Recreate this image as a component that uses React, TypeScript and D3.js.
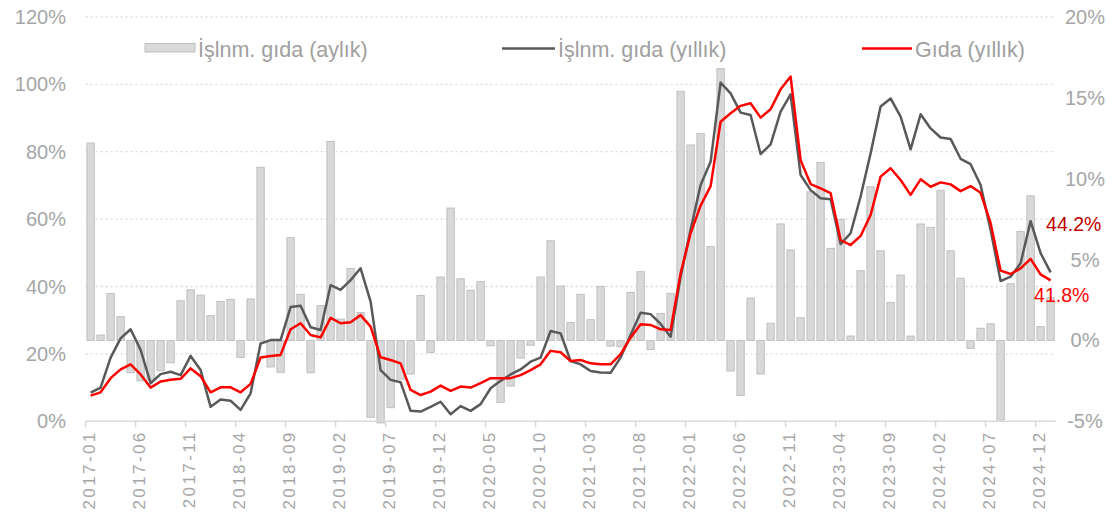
import { useMemo } from 'react'
import * as d3 from 'd3'

// monthly change of processed food (%), right axis
const monthlyProc = [
  12.2, 0.33, 2.9, 1.47, -2.0, -2.5, -2.45, -1.87, -1.38, 2.45, 3.13, 2.8, 1.53, 2.41, 2.54, -1.05, 2.56, 10.7, -1.64, -1.97,
  6.35, 2.85, -2.0, 2.15, 12.3, 1.32, 4.45, 1.73, -4.75, -5.1, -4.16, -2.39, -2.08, 2.78, -0.74, 3.92, 8.18, 3.81, 3.1, 3.63,
  -0.33, -3.83, -2.82, -1.09, -0.3, 3.92, 6.16, 3.36, 1.1, 2.85, 1.28, 3.34, -0.35, -0.39, 2.97, 4.25, -0.57, 1.67, 2.91, 15.4,
  12.08, 12.8, 5.8, 16.8, -1.89, -3.4, 2.62, -2.08, 1.06, 7.2, 5.59, 1.4, 9.19, 11.0, 5.69, 7.48, 0.27, 4.31, 9.5, 5.54,
  2.35, 4.04, 0.27, 7.2, 6.99, 9.28, 5.54, 3.84, -0.49, 0.75, 1.03, -4.92, 3.5, 6.74, 8.94, 0.85, 2.64,
]

// annual change of processed food (%), left axis
const annualProc = [
  8.5, 10, 18.9, 24.6, 27.3, 21.2, 11.3, 14, 14.7, 13.7, 19.4, 15.2, 4.3, 6.5, 6.1, 3.4, 8.3, 23.1, 24.1, 24.1,
  33.9, 34.3, 27.9, 27.1, 40.4, 39, 41.9, 45.4, 35.5, 15.2, 12.3, 11.6, 3.1, 2.9, 4.3, 5.8, 2.1, 4.5, 3.1, 5.1,
  9.8, 12, 13.9, 15.4, 17.7, 18.9, 26.8, 26.1, 17.9, 16.9, 14.9, 14.5, 14.4, 18.9, 25.6, 32.2, 31.8, 28.9, 25.1, 42.9,
  56.8, 70.1, 77, 100.5, 97.3, 91.6, 90.9, 79.3, 82.2, 91.9, 97, 73.1, 68.6, 66.2, 65.9, 52.6, 55.8, 66.7, 79.5, 93.4,
  95.8, 90.4, 80.7, 91.1, 86.9, 84.2, 83.8, 77.9, 76.3, 70.1, 56.8, 41.6, 42.9, 46.9, 59.4, 49.9, 44.2,
]

// annual change of food (%), left axis
const annualFood = [
  7.6, 8.6, 12.8, 15.4, 16.9, 13.9, 10, 11.8, 12.3, 12.6, 15.7, 13.4, 8.6, 10.1, 10.1, 8.6, 11.1, 18.9, 19.4, 19.7,
  27.3, 29.1, 25.6, 24.9, 30.7, 29.1, 29.4, 31.5, 28.1, 19, 18.2, 17.2, 9.3, 7.8, 8.8, 10.6, 9, 10.3, 10, 11.3,
  12.8, 12.8, 12.8, 13.7, 15.2, 16.9, 20.9, 20.5, 17.9, 18.2, 17.2, 16.9, 16.9, 19.9, 24.8, 28.8, 28.6, 27.3, 27.1, 43.9,
  55.8, 64, 69.8, 88.9, 91.4, 93.6, 94.4, 90.1, 92.6, 98.5, 102.3, 77.5, 70.4, 69.1, 67.7, 53.8, 52.3, 55, 61.2, 72.6,
  75.1, 71.6, 67.2, 71.8, 69.6, 70.9, 70.3, 68.3, 69.8, 67.8, 58.8, 44.7, 43.7, 45.4, 48.2, 43.6, 41.8,
]

const months = d3.timeMonth.range(new Date(2017, 0, 1), new Date(2025, 1, 1)).map(d3.timeFormat('%Y-%m'))
const shownMonths = [
  '2017-01', '2017-06', '2017-11', '2018-04', '2018-09', '2019-02', '2019-07', '2019-12', '2020-05', '2020-10',
  '2021-03', '2021-08', '2022-01', '2022-06', '2022-11', '2023-04', '2023-09', '2024-02', '2024-07', '2024-12',
]
const leftTicks = [0, 20, 40, 60, 80, 100, 120]
const rightTicks = [-5, 0, 5, 10, 15, 20]

const W = 1115
const H = 517
const FONT = '"Liberation Sans", Arial, sans-serif'

export default function App() {
  const m = { left: 85.6, right: 1055.6, top: 16.9, bottom: 421.3 }

  const x = useMemo(() => d3.scaleBand<string>().domain(months).range([m.left, m.right])
    .paddingInner(0.27).paddingOuter(0.135), [])
  const yL = d3.scaleLinear().domain([0, 120]).range([m.bottom, m.top])
  const yR = d3.scaleLinear().domain([-5, 20]).range([m.bottom, m.top])
  const step = x.step()
  const cx = (d: string) => (x(d) ?? 0) + x.bandwidth() / 2

  const line = d3.line<number>().x((_, i) => cx(months[i])).y((v) => yL(v))

  const last = months[months.length - 1]
  const lastProc = annualProc[annualProc.length - 1]
  const lastFood = annualFood[annualFood.length - 1]

  return (
    <svg width={W} height={H} style={{ position: 'absolute', left: 0, top: 0, background: '#fff' }} fontFamily={FONT}>
      {/* grid */}
      {leftTicks.slice(1).map((t) => (
        <line key={t} x1={m.left} x2={m.right} y1={yL(t)} y2={yL(t)}
          stroke="#d9d9d9" strokeWidth={1.3} strokeDasharray="2,3" />
      ))}

      {/* bars */}
      {monthlyProc.map((v, i) => (
        <rect key={i} x={x(months[i])} width={x.bandwidth()}
          y={Math.min(yR(v), yR(0))} height={Math.abs(yR(v) - yR(0))}
          fill="#d9d9d9" stroke="#bfbfbf" strokeWidth={1} />
      ))}

      {/* x axis */}
      <line x1={m.left} x2={m.right} y1={m.bottom} y2={m.bottom} stroke="#d9d9d9" strokeWidth={1.5} />
      {months.map((d, i) => i % 5 === 0 ? (
        <line key={d} x1={m.left + step * i} x2={m.left + step * i} y1={m.bottom} y2={m.bottom + 6}
          stroke="#d9d9d9" strokeWidth={1.5} />
      ) : null)}
      {shownMonths.map((d) => (
        <text key={d} transform={`translate(${cx(d) + 4.5},${m.bottom + 9}) rotate(-90)`}
          textAnchor="end" fontSize={17} letterSpacing={2.4} fill="#a6a6a6">{d}</text>
      ))}

      {/* lines */}
      <path d={line(annualProc) ?? ''} fill="none" stroke="#595959" strokeWidth={2.5} strokeLinejoin="round" />
      <path d={line(annualFood) ?? ''} fill="none" stroke="#ff0000" strokeWidth={2.5} strokeLinejoin="round" />

      {/* left axis labels */}
      {leftTicks.map((t) => (
        <text key={t} x={66} y={yL(t)} dy="0.35em" textAnchor="end" fontSize={20} fill="#a6a6a6">{t}%</text>
      ))}
      {/* right axis labels */}
      {rightTicks.map((t) => (
        <text key={t} x={1085} y={yR(t)} dy="0.35em" textAnchor="middle" fontSize={20} fill="#a6a6a6">{t}%</text>
      ))}

      {/* end labels */}
      <text x={cx(last) - 4.5} y={yL(lastProc) - 41.5}
        fontSize={19.5} fill="#c00000">{lastProc.toFixed(1)}%</text>
      <text x={cx(last) - 16.5} y={yL(lastFood) + 21.3}
        fontSize={19.5} fill="#ff0000">{lastFood.toFixed(1)}%</text>

      {/* legend */}
      <g fontSize={21.5} fill="#a0a0a0">
        <rect x={145} y={43.5} width={50} height={8.5} fill="#d9d9d9" stroke="#bfbfbf" />
        <text x={198} y={49} dy="0.35em">İşlnm. gıda (aylık)</text>
        <line x1={502} x2={555} y1={48.5} y2={48.5} stroke="#595959" strokeWidth={2.5} />
        <text x={558} y={49} dy="0.35em">İşlnm. gıda (yıllık)</text>
        <line x1={862} x2={912} y1={48.5} y2={48.5} stroke="#ff0000" strokeWidth={2.5} />
        <text x={915} y={49} dy="0.35em">Gıda (yıllık)</text>
      </g>
    </svg>
  )
}
